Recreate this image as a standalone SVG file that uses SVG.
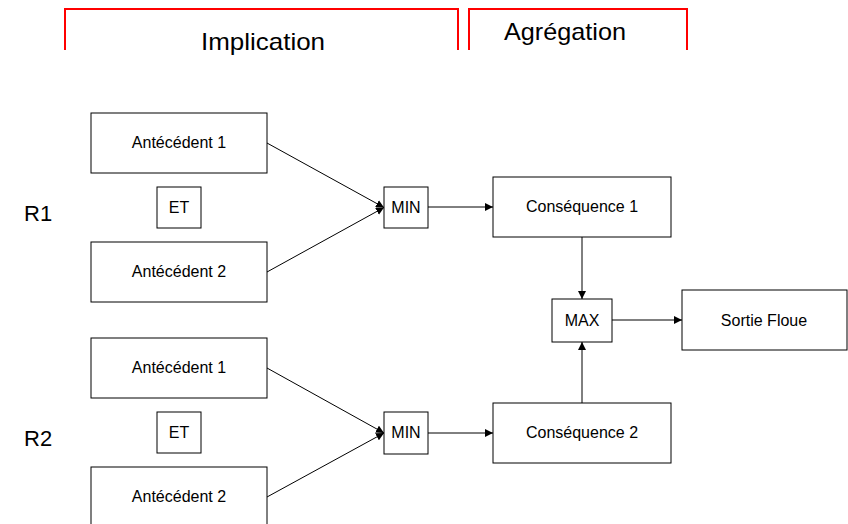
<svg xmlns="http://www.w3.org/2000/svg" width="848" height="524" viewBox="0 0 848 524">
<defs>
<marker id="arr" viewBox="0 0 10 10" refX="10" refY="5" markerWidth="8" markerHeight="8" markerUnits="userSpaceOnUse" orient="auto">
<path d="M0,0 L10,5 L0,10 z" fill="#000"/>
</marker>
<style>
.box{fill:#fff;stroke:#000;stroke-width:1}
.t{font-family:"Liberation Sans",Arial,sans-serif;font-size:16px;fill:#000;text-anchor:middle}
.big{font-family:"Liberation Sans",Arial,sans-serif;font-size:24px;fill:#000;text-anchor:middle}
.lbl{font-family:"Liberation Sans",Arial,sans-serif;font-size:22px;fill:#000}
.br{fill:none;stroke:#f00;stroke-width:2}
.c{fill:none;stroke:#000;stroke-width:1;marker-end:url(#arr)}
</style>
</defs>
<rect width="848" height="524" fill="#fff"/>
<g id="header-implication">
<path class="br" d="M65,50 V9 H458 V50"/>
<text class="big" x="263" y="50" textLength="124" lengthAdjust="spacingAndGlyphs">Implication</text>
</g>
<g id="header-agregation">
<path class="br" d="M469,50 V9 H687 V50"/>
<text class="big" x="565" y="40" textLength="122" lengthAdjust="spacingAndGlyphs">Agrégation</text>
</g>
<g id="label-r1"><text class="lbl" x="24" y="221">R1</text></g>
<g id="label-r2"><text class="lbl" x="24" y="446">R2</text></g>

<g id="r1-ant1"><rect class="box" x="91" y="113" width="176" height="60"/><text class="t" x="179" y="148">Antécédent 1</text></g>
<g id="r1-et"><rect class="box" x="157" y="187" width="44" height="41"/><text class="t" x="179" y="213">ET</text></g>
<g id="r1-ant2"><rect class="box" x="91" y="242" width="176" height="60"/><text class="t" x="179" y="277">Antécédent 2</text></g>
<g id="r1-min"><rect class="box" x="384" y="187" width="44" height="41"/><text class="t" x="406" y="213">MIN</text></g>
<g id="r1-cons"><rect class="box" x="493" y="177" width="178" height="60"/><text class="t" x="582" y="212">Conséquence 1</text></g>

<g id="max"><rect class="box" x="552" y="299" width="60" height="43"/><text class="t" x="582" y="326">MAX</text></g>
<g id="sortie"><rect class="box" x="682" y="290" width="165" height="60"/><text class="t" x="764" y="326">Sortie Floue</text></g>

<g id="r2-ant1"><rect class="box" x="91" y="338" width="176" height="60"/><text class="t" x="179" y="373">Antécédent 1</text></g>
<g id="r2-et"><rect class="box" x="157" y="412" width="44" height="41"/><text class="t" x="179" y="438">ET</text></g>
<g id="r2-ant2"><rect class="box" x="91" y="467" width="176" height="60"/><text class="t" x="179" y="502">Antécédent 2</text></g>
<g id="r2-min"><rect class="box" x="384" y="412" width="44" height="42"/><text class="t" x="406" y="438">MIN</text></g>
<g id="r2-cons"><rect class="box" x="493" y="403" width="178" height="60"/><text class="t" x="582" y="438">Conséquence 2</text></g>

<g id="connectors">
<line class="c" x1="267" y1="143" x2="384" y2="207.5"/>
<line class="c" x1="267" y1="272" x2="384" y2="207.5"/>
<line class="c" x1="428" y1="207" x2="493" y2="207"/>
<line class="c" x1="582" y1="237" x2="582" y2="299"/>
<line class="c" x1="582" y1="403" x2="582" y2="342"/>
<line class="c" x1="612" y1="320" x2="682" y2="320"/>
<line class="c" x1="267" y1="368" x2="384" y2="433"/>
<line class="c" x1="267" y1="497" x2="384" y2="433"/>
<line class="c" x1="428" y1="433" x2="493" y2="433"/>
</g>
</svg>
